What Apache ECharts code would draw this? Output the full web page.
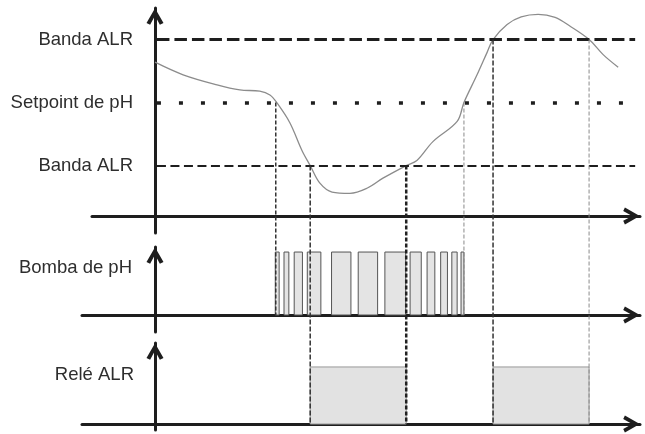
<!DOCTYPE html>
<html>
<head>
<meta charset="utf-8">
<script src="https://cdn.jsdelivr.net/npm/echarts@6/dist/echarts.min.js"></script>
<style>
html,body{margin:0;padding:0;background:#fff;}
#c{width:645px;height:434px;}
</style>
</head>
<body>
<div id="c"></div>
<script>
// ---- data ----
const levelNames = ['Banda ALR', 'Setpoint de pH', 'Banda ALR'];
const levelValues = [14, 9, 4];
const phTime = [0, 5.8, 12.8, 17.5, 21.6, 23.7, 25.1, 27.8, 30.3, 32.0, 34.0, 36.5, 40.2, 43.7, 47.0, 51.8, 54.0, 57.3, 62.3, 63.7, 66.4, 68.5, 69.7, 72.6, 75.5, 79.0, 82.5, 85.6, 89.5, 92.4, 95.5];
const phLevel = [12.2, 11.2, 10.4, 10.0, 9.9, 9.6, 9.0, 7.4, 5.2, 4.0, 2.6, 1.9, 1.8, 2.2, 3.0, 4.0, 4.4, 5.9, 7.5, 9.0, 11.2, 13.0, 14.0, 15.2, 15.8, 16.0, 15.75, 15.05, 14.0, 12.8, 11.8];
const pumpStart = [24.8, 26.6, 28.7, 31.4, 36.4, 41.9, 47.4, 52.6, 56.1, 58.9, 61.2, 63.1];
const pumpEnd   = [25.6, 27.6, 30.4, 34.2, 40.4, 45.9, 51.7, 54.9, 57.7, 60.3, 62.3, 63.7];
const relayStart = [32.0, 69.7];
const relayEnd   = [51.8, 89.5];
const eventTime  = [24.9, 32.0, 51.8, 63.7, 69.7, 89.5];
const eventLevel = [9, 4, 4, 9, 14, 14];
const eventPanel = [1, 2, 2, 1, 2, 2];
const bombaLabel = 'Bomba de pH';
const releLabel = 'Relé ALR';

// ---- styles ----
const AX = '#1e1e1e';
const TXT = '#2e2e2e';
const FONT = 'Liberation Sans';
const FS = 18.5;
const arrowPath = 'path://M0,14 L8,0 L16,14 L12.6,15.6 L8,7.2 L3.4,15.6 Z';
const axisLine = {
  show: true, onZero: true,
  lineStyle: {color: AX, width: 3},
  symbol: ['none', arrowPath], symbolSize: [17, 17], symbolOffset: [0, -8.5]
};
const eventStyles = [
  {stroke: '#333', lineWidth: 1.5, lineDash: [4, 2]},
  {stroke: '#333', lineWidth: 1.5, lineDash: [5, 2]},
  {stroke: '#222', lineWidth: 2.5, lineDash: [4, 2]},
  {stroke: '#8a8a8a', lineWidth: 1, lineDash: [4, 2]},
  {stroke: '#333', lineWidth: 1.5, lineDash: [5, 2]},
  {stroke: '#8a8a8a', lineWidth: 1, lineDash: [4, 2]}
];
const bandStyles = [
  {color: AX, width: 3, type: [12.5, 5]},
  {color: AX, width: 3.5, type: [4, 18]},
  {color: AX, width: 2.2, type: [9, 4.5]}
];

const xMax = 100;
function xAx(gi, min) {
  return {type: 'value', gridIndex: gi, min: min, max: xMax, axisLine: axisLine,
    axisTick: {show: false}, axisLabel: {show: false}, splitLine: {show: false}};
}
function yAx(gi, min, max, vals, names, margin) {
  return {type: 'value', gridIndex: gi, min: min, max: max, axisLine: axisLine,
    axisTick: {show: false}, splitLine: {show: false},
    axisLabel: {show: true, customValues: vals, margin: margin, color: TXT, fontSize: FS, fontFamily: FONT,
      formatter: function (v) { const i = vals.indexOf(v); return i >= 0 ? names[i] : ''; }}};
}

const curve = phTime.map((t, i) => [t, phLevel[i]]);
const pulses = pumpStart.map((s, i) => [s, pumpEnd[i]]);
const relays = relayStart.map((s, i) => [s, relayEnd[i]]);

function rectItem(fill, stroke) {
  return function (params, api) {
    const a = api.coord([api.value(0), 1]);
    const b = api.coord([api.value(1), 0]);
    return {type: 'rect', shape: {x: a[0], y: a[1], width: b[0] - a[0], height: b[1] - a[1]},
      style: {fill: fill, stroke: stroke, lineWidth: 1}};
  };
}

const gridBase = {right: 5, containLabel: false, outerBoundsMode: 'none'};
const option = {
  animation: false,
  backgroundColor: '#fff',
  grid: [
    Object.assign({left: 92, top: 8, bottom: 201}, gridBase),
    Object.assign({left: 82, top: 247, bottom: 102}, gridBase),
    Object.assign({left: 82, top: 343, bottom: 4}, gridBase)
  ],
  xAxis: [xAx(0, -12.99), xAx(1, -15.05), xAx(2, -15.05)],
  yAxis: [
    yAx(0, -1.35, 16.5, levelValues, levelNames, -41),
    yAx(1, -0.27, 1.08, [0.75], [bombaLabel], -50),
    yAx(2, -0.105, 1.42, [0.86], [releLabel], -52)
  ],
  series: [
    {type: 'line', xAxisIndex: 0, yAxisIndex: 0, data: curve, showSymbol: false, smooth: 0.35,
      lineStyle: {color: '#8c8c8c', width: 1.3}, z: 3,
      markLine: {silent: true, symbol: 'none', label: {show: false},
        data: levelValues.map((v, i) => [{coord: [0.4, v], lineStyle: bandStyles[i]}, {coord: [99, v]}])}},
    {type: 'custom', xAxisIndex: 1, yAxisIndex: 1, data: pulses, encode: {x: [0, 1]},
      renderItem: rectItem('#e4e4e4', '#555'), z: 2},
    {type: 'custom', xAxisIndex: 2, yAxisIndex: 2, data: relays, encode: {x: [0, 1]},
      renderItem: rectItem('#e2e2e2', '#999'), z: 2}
  ]
};

const chart = echarts.init(document.getElementById('c'));
chart.setOption(option);
const lines = eventTime.map((t, i) => {
  const p1 = chart.convertToPixel({xAxisIndex: 0, yAxisIndex: 0}, [t, eventLevel[i]]);
  const p2 = chart.convertToPixel({xAxisIndex: eventPanel[i], yAxisIndex: eventPanel[i]}, [t, 0]);
  return {type: 'line', z: 100, silent: true,
    shape: {x1: p1[0], y1: p1[1], x2: p2[0], y2: p2[1]}, style: eventStyles[i]};
});
chart.setOption({graphic: lines});
</script>
</body>
</html>
